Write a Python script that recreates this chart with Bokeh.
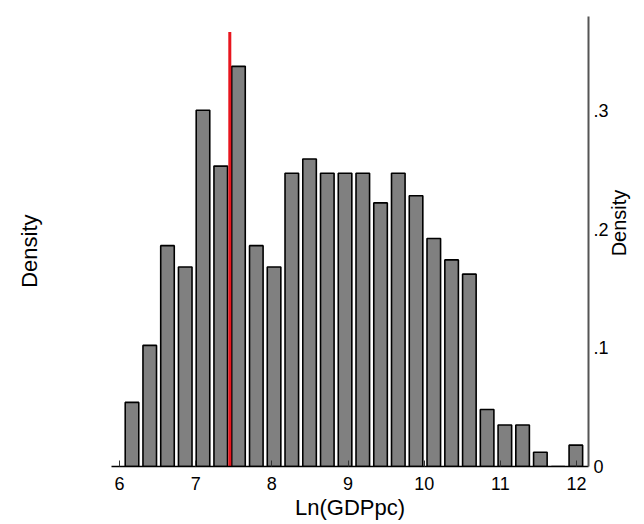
import math
from bokeh.plotting import figure
from bokeh.models import Range1d, LinearAxis, FixedTicker
from bokeh.embed import file_html
from bokeh.resources import INLINE

# ---- data ----
bin_centers = [6.164, 6.397, 6.630, 6.863, 7.096, 7.329, 7.562, 7.796, 8.029, 8.262,
               8.495, 8.728, 8.961, 9.194, 9.427, 9.660, 9.893, 10.126, 10.360, 10.593,
               10.826, 11.059, 11.292, 11.525, 11.758, 11.991]
density = [0.054, 0.102, 0.186, 0.168, 0.300, 0.253, 0.337, 0.186, 0.168, 0.247,
           0.259, 0.247, 0.247, 0.247, 0.222, 0.247, 0.228, 0.192, 0.174, 0.162,
           0.048, 0.035, 0.035, 0.012, 0.0, 0.018]
marker_x = 7.448
marker_top = 0.366
x_ticks = [6, 7, 8, 9, 10, 11, 12]
y_ticks = [0, 0.1, 0.2, 0.3]
y_tick_labels = ["0", ".1", ".2", ".3"]
x_title = "Ln(GDPpc)"
y_title = "Density"

FONT = "Liberation Sans"

p = figure(width=644, height=524, output_backend="svg", toolbar_location=None,
           x_range=Range1d(5.895, 12.157), y_range=Range1d(0, 0.379),
           min_border_left=111, min_border_right=55, min_border_top=16,
           min_border_bottom=58, y_axis_location=None)
p.outline_line_color = None
p.grid.visible = False
p.background_fill_color = "white"
p.border_fill_color = "white"

p.vbar(x=bin_centers, top=density, width=0.178, bottom=0,
       fill_color="#808080", line_color="black", line_width=1.6)

p.segment(x0=[marker_x], y0=[0], x1=[marker_x], y1=[marker_top],
          line_color="#e8161e", line_width=3)

# bottom axis
xa = p.xaxis[0]
xa.ticker = FixedTicker(ticks=x_ticks)
xa.axis_label = x_title
xa.axis_line_color = "black"
xa.axis_line_width = 1.5
xa.major_tick_in = 6
xa.major_tick_out = 0
xa.minor_tick_in = 0
xa.minor_tick_out = 0
xa.major_tick_line_color = "#333333"
xa.major_label_standoff = 10
xa.major_label_text_font = FONT
xa.major_label_text_font_size = "18px"
xa.major_label_text_color = "black"
xa.axis_label_text_font = FONT
xa.axis_label_text_font_size = "22px"
xa.axis_label_text_font_style = "normal"
xa.axis_label_text_color = "black"
xa.axis_label_standoff = 2

# right axis with ticks
ya = LinearAxis(ticker=FixedTicker(ticks=y_ticks),
                major_label_overrides={t: l for t, l in zip(y_ticks, y_tick_labels)})
ya.axis_line_color = "#555555"
ya.axis_line_width = 2
ya.major_tick_in = 0
ya.major_tick_out = 0
ya.minor_tick_in = 0
ya.minor_tick_out = 0
ya.major_label_standoff = 5
ya.major_label_text_font = FONT
ya.major_label_text_font_size = "18px"
ya.major_label_text_color = "black"
ya.major_label_orientation = "horizontal"
p.add_layout(ya, "right")


def title_axis(pos, standoff, size):
    ax = LinearAxis(ticker=FixedTicker(ticks=[pos]),
                    major_label_overrides={pos: y_title})
    ax.axis_line_color = None
    ax.major_tick_in = 0
    ax.major_tick_out = 0
    ax.minor_tick_in = 0
    ax.minor_tick_out = 0
    ax.major_label_orientation = math.pi / 2
    ax.major_label_standoff = standoff
    ax.major_label_text_font = FONT
    ax.major_label_text_font_size = size
    ax.major_label_text_color = "black"
    return ax


p.add_layout(title_axis(0.177, 8, "20px"), "right")
p.add_layout(title_axis(0.2123, 82, "22px"), "left")

open("out.html", "w").write(file_html(p, INLINE))
